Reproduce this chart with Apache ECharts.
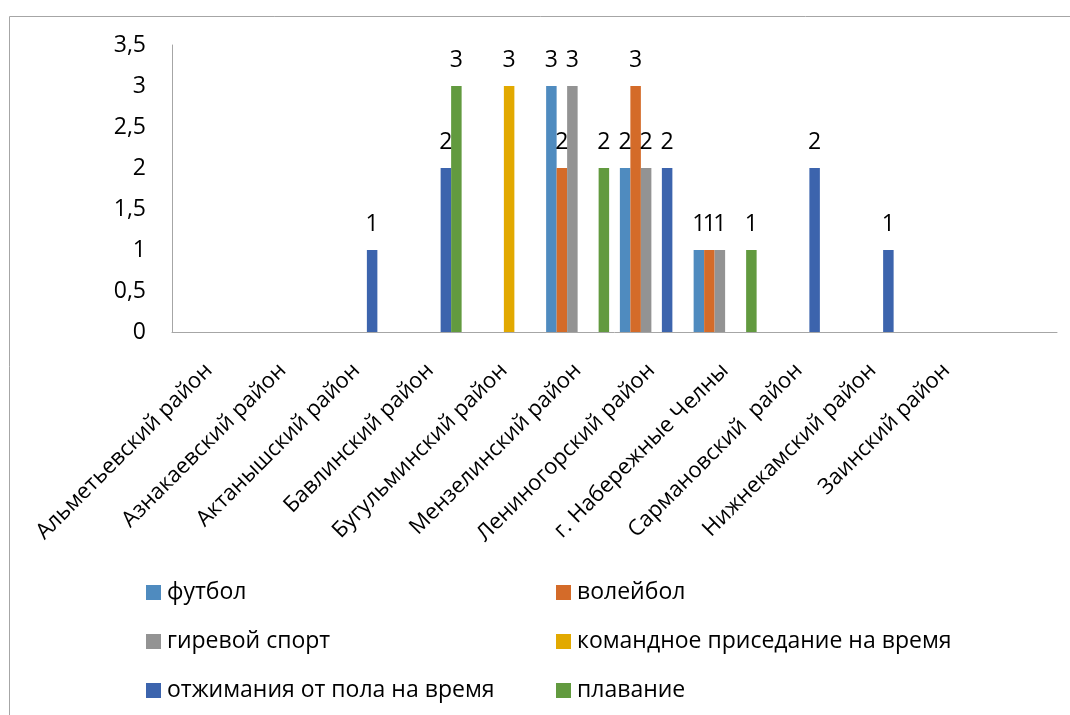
<!DOCTYPE html>
<html>
<head>
<meta charset="utf-8">
<script src="https://cdn.jsdelivr.net/npm/echarts@6/dist/echarts.min.js"></script>
<style>
html,body{margin:0;padding:0;background:#fff;}
#main{width:1070px;height:715px;}
</style>
</head>
<body>
<div id="main"></div>
<script>
const categories = ['Альметьевский район','Азнакаевский район','Актанышский район','Бавлинский район','Бугульминский район','Мензелинский район','Лениногорский район','г. Набережные Челны','Сармановский  район','Нижнекамский район','Заинский район',''];
const seriesNames = ['футбол','волейбол','гиревой спорт','командное приседание на время','отжимания от пола на время','плавание'];
const football   = [null,null,null,null,null,3,2,1,null,null,null,null];
const volleyball = [null,null,null,null,null,2,3,1,null,null,null,null];
const kettlebell = [null,null,null,null,null,3,2,1,null,null,null,null];
const squats     = [null,null,null,null,3,null,null,null,null,null,null,null];
const pushups    = [null,null,1,2,null,null,2,null,2,1,null,null];
const swimming   = [null,null,null,3,null,2,null,1,null,null,null,null];
const yTicks = [0,0.5,1,1.5,2,2.5,3,3.5];
const colors = ['#4F8BBF','#D46B29','#939393','#E2A900','#3C64AD','#629A3F'];

const seriesData = [football, volleyball, kettlebell, squats, pushups, swimming];
const FONT = '"Open Sans", sans-serif';

const chart = echarts.init(document.getElementById('main'));
const legendText = {fontFamily: FONT, fontSize: 23, color: '#000', lineHeight: 22, padding: [0,0,0,1]};
chart.setOption({
  animation: false,
  color: colors,
  textStyle: {fontFamily: FONT, color: '#000'},
  graphic: [{
    type: 'rect', shape: {x: 9.5, y: 16.5, width: 1200, height: 900},
    style: {fill: 'none', stroke: '#A6A6A6', lineWidth: 1}, silent: true
  }],
  grid: {left: 172, right: 13, top: 45, bottom: 383, containLabel: false},
  legend: [
    {data: [seriesNames[0], seriesNames[2], seriesNames[4]], orient: 'vertical', left: 141, top: 576,
     itemWidth: 15, itemHeight: 15, itemGap: 26, icon: 'rect', textStyle: legendText},
    {data: [seriesNames[1], seriesNames[3], seriesNames[5]], orient: 'vertical', left: 551, top: 576,
     itemWidth: 15, itemHeight: 15, itemGap: 26, icon: 'rect', textStyle: legendText}
  ],
  xAxis: {
    type: 'category', data: categories,
    axisLine: {lineStyle: {color: '#A6A6A6', width: 1}},
    axisTick: {show: false},
    axisLabel: {rotate: 45, interval: 0, fontFamily: FONT, fontSize: 22, color: '#000', margin: 35}
  },
  yAxis: {
    type: 'value', min: 0, max: 3.5, interval: 0.5,
    axisLine: {show: true, lineStyle: {color: '#A6A6A6', width: 1}},
    axisTick: {show: false},
    splitLine: {show: false},
    axisLabel: {fontFamily: FONT, fontSize: 23, color: '#000', margin: 26,
      formatter: v => String(v).replace('.', ',')}
  },
  series: seriesNames.map((n, i) => ({
    name: n, type: 'bar', data: seriesData[i],
    barWidth: 10.5, barGap: '0%',
    itemStyle: {color: colors[i]},
    label: {show: true, position: 'top', distance: 14, fontFamily: FONT, fontSize: 23, color: '#000'}
  }))
});
</script>
</body>
</html>
